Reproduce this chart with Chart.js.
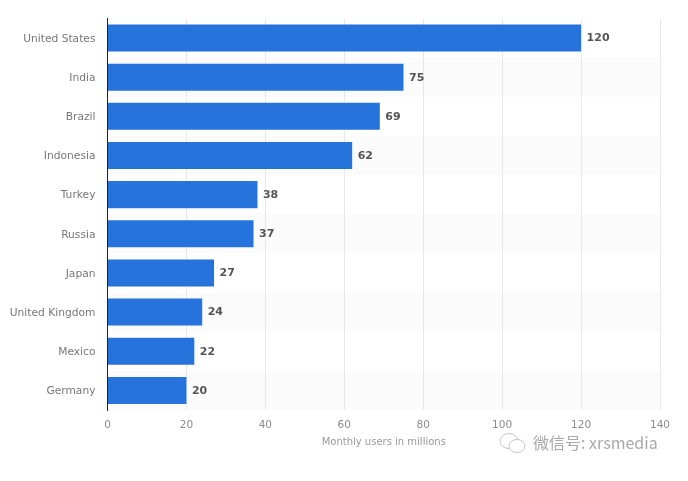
<!DOCTYPE html>
<html>
<head>
<meta charset="utf-8">
<title>Monthly users</title>
<script src="https://cdn.jsdelivr.net/npm/chart.js@4"></script>
<style>
    html, body { margin: 0; padding: 0; background: #fff; }
    #wrap { position: relative; width: 688px; height: 481px; overflow: hidden; }
    #watermark {
        position: absolute; left: 533px; top: 430px; white-space: nowrap;
        font: 16px "Noto Sans CJK SC", "DejaVu Sans", sans-serif; color: #a9a9a9;
    }
    #wechat { position: absolute; left: 498px; top: 431px; }
</style>
</head>
<body>
<div id="wrap">
    <canvas id="usersChart" width="688" height="481"></canvas>
    <svg id="wechat" width="30" height="26" viewBox="0 0 30 26" fill="none" stroke="#c4c4c4" stroke-width="1">
        <ellipse cx="11" cy="10" rx="9" ry="7.5"/>
        <ellipse cx="19" cy="15" rx="8" ry="6.5" fill="#fff"/>
    </svg>
    <div id="watermark">微信号: xrsmedia</div>
</div>
<script>
const countries = ['United States', 'India', 'Brazil', 'Indonesia', 'Turkey', 'Russia', 'Japan', 'United Kingdom', 'Mexico', 'Germany'];
const monthlyUsers = [120, 75, 69, 62, 38, 37, 27, 24, 22, 20];
const xTicks = [0, 20, 40, 60, 80, 100, 120, 140];
const axisTitle = 'Monthly users in millions';

const fontFamily = '"DejaVu Sans", sans-serif';

// Faint stripes behind every other row
const rowStripes = {
    id: 'rowStripes',
    beforeDraw(chart) {
        const { ctx, chartArea, scales } = chart;
        const rowHeight = chartArea.height / countries.length;
        ctx.save();
        ctx.fillStyle = '#fbfbfb';
        countries.forEach((name, i) => {
            if (i % 2 === 0) return;
            ctx.fillRect(chartArea.left, scales.y.getPixelForValue(i) - rowHeight / 2, chartArea.width, rowHeight);
        });
        ctx.restore();
    }
};

// Value printed just past the end of each bar
const valueLabels = {
    id: 'valueLabels',
    afterDatasetsDraw(chart) {
        const { ctx } = chart;
        ctx.save();
        ctx.font = `bold 11px ${fontFamily}`;
        ctx.fillStyle = '#555555';
        ctx.textAlign = 'left';
        ctx.textBaseline = 'middle';
        chart.getDatasetMeta(0).data.forEach((bar, i) => {
            ctx.fillText(monthlyUsers[i], bar.x + 5.5, bar.y + 0.5);
        });
        ctx.restore();
    }
};

new Chart(document.getElementById('usersChart').getContext('2d'), {
    type: 'bar',
    data: {
        labels: countries,
        datasets: [{
            data: monthlyUsers,
            backgroundColor: '#2673dc',
            barPercentage: 0.69,
            categoryPercentage: 1
        }]
    },
    options: {
        indexAxis: 'y',
        responsive: false,
        animation: false,
        layout: { padding: { top: 18, right: 28, bottom: 27, left: 0 } },
        plugins: { legend: { display: false }, tooltip: { enabled: false } },
        scales: {
            x: {
                min: 0,
                max: 140,
                afterBuildTicks: (scale) => { scale.ticks = xTicks.map(value => ({ value })); },
                grid: { color: '#e8e8e8', drawTicks: false },
                border: { display: false },
                ticks: { color: '#8c8c8c', font: { family: fontFamily, size: 10.5 }, padding: 9, maxRotation: 0 },
                title: { display: true, text: axisTitle, color: '#999999', font: { family: fontFamily, size: 10 }, padding: { top: 3, bottom: 6 } },
                afterFit: (scale) => { scale.height = 44; }
            },
            y: {
                grid: { display: false, drawTicks: false },
                border: { display: true, color: '#222222', width: 1 },
                ticks: { color: '#777777', font: { family: fontFamily, size: 10.7 }, padding: 12, labelOffset: 1 },
                afterFit: (scale) => { scale.width = 107.5; }
            }
        }
    },
    plugins: [rowStripes, valueLabels]
});
</script>
</body>
</html>
